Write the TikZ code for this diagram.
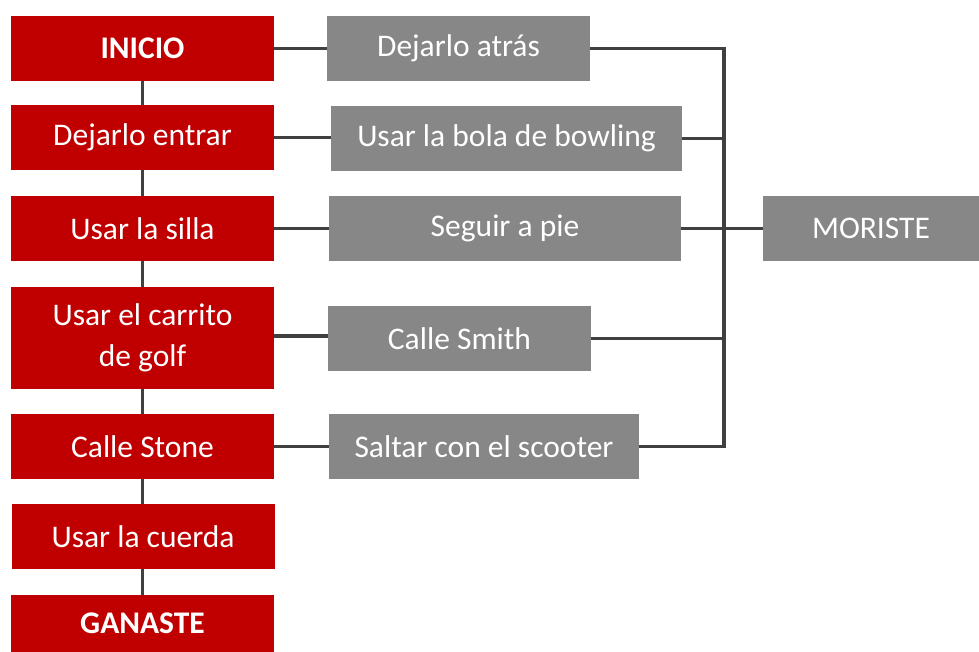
\documentclass[tikz,border=0pt]{standalone}
\usepackage{fontspec}
\setmainfont{Carlito}
\definecolor{boxred}{HTML}{C00000}
\definecolor{boxgray}{HTML}{878787}
\definecolor{linegray}{HTML}{404040}
\tikzset{
  redbox/.style={fill=boxred, text=white, inner sep=0pt, font=\fontsize{31.5}{41}\selectfont, align=center},
  graybox/.style={fill=boxgray, text=white, inner sep=0pt, font=\fontsize{31.5}{41}\selectfont, align=center},
  link/.style={draw=linegray, line width=3.3pt}
}
\begin{document}
\begin{tikzpicture}[x=1pt,y=-1pt]
\useasboundingbox (0,0) rectangle (979,652);
% red column
\node[redbox, minimum width=263pt, minimum height=65pt] (inicio) at (142.5,48.5) {\bfseries INICIO};
\node[redbox, minimum width=263pt, minimum height=65pt] (entrar) at (142.5,137.5) {Dejarlo entrar};
\node[redbox, minimum width=263pt, minimum height=65pt] (silla) at (142.5,228.5) {Usar la silla};
\node[redbox, minimum width=263pt, minimum height=102pt] (carrito) at (142.5,338) {Usar el carrito\\de golf};
\node[redbox, minimum width=263pt, minimum height=65pt] (stone) at (142.5,446.5) {Calle Stone};
\node[redbox, minimum width=263pt, minimum height=65pt] (cuerda) at (143,536.5) {Usar la cuerda};
\node[redbox, minimum width=263pt, minimum height=57pt] (ganaste) at (142.5,623.5) {\bfseries GANASTE};
% gray column
\node[graybox, minimum width=263pt, minimum height=65pt] (atras) at (458.5,48.5) {Dejarlo atrás};
\node[graybox, minimum width=351pt, minimum height=65pt] (bowling) at (506.5,138.5) {Usar la bola de bowling};
\node[graybox, minimum width=352pt, minimum height=65pt] (pie) at (505,228.5) {Seguir a pie};
\node[graybox, minimum width=263pt, minimum height=65pt] (smith) at (459.5,338.5) {Calle Smith};
\node[graybox, minimum width=310pt, minimum height=65pt] (scooter) at (484,446.5) {Saltar con el scooter};
\node[graybox, minimum width=216pt, minimum height=65pt] (moriste) at (871,228.5) {MORISTE};
\coordinate (bus) at (724,0);
% vertical chain
\draw[link] (inicio.south) -- (entrar.north);
\draw[link] (entrar.south) -- (silla.north);
\draw[link] (silla.south) -- (carrito.north);
\draw[link] (carrito.south) -- (stone.north);
\draw[link] (stone.south) -- ([xshift=-0.5pt]cuerda.north);
\draw[link] ([xshift=-0.5pt]cuerda.south) -- (ganaste.north);
% red to gray
\draw[link] (inicio.east) -- (atras.west);
\draw[link] (entrar.east) -- (entrar.east -| bowling.west);
\draw[link] (silla.east) -- (pie.west);
\draw[link] ([yshift=2pt]carrito.east) -- ([yshift=2pt]carrito.east -| smith.west);
\draw[link] (stone.east) -- (scooter.west);
% gray to bus
\draw[link] (atras.east) -- (atras.east -| bus) -- (scooter.east -| bus) -- (scooter.east);
\draw[link] (bowling.east) -- (bowling.east -| bus);
\draw[link] (pie.east) -- (pie.east -| bus);
\draw[link] (smith.east) -- (smith.east -| bus);
\draw[link] (moriste.west -| bus) -- (moriste.west);
\end{tikzpicture}
\end{document}
